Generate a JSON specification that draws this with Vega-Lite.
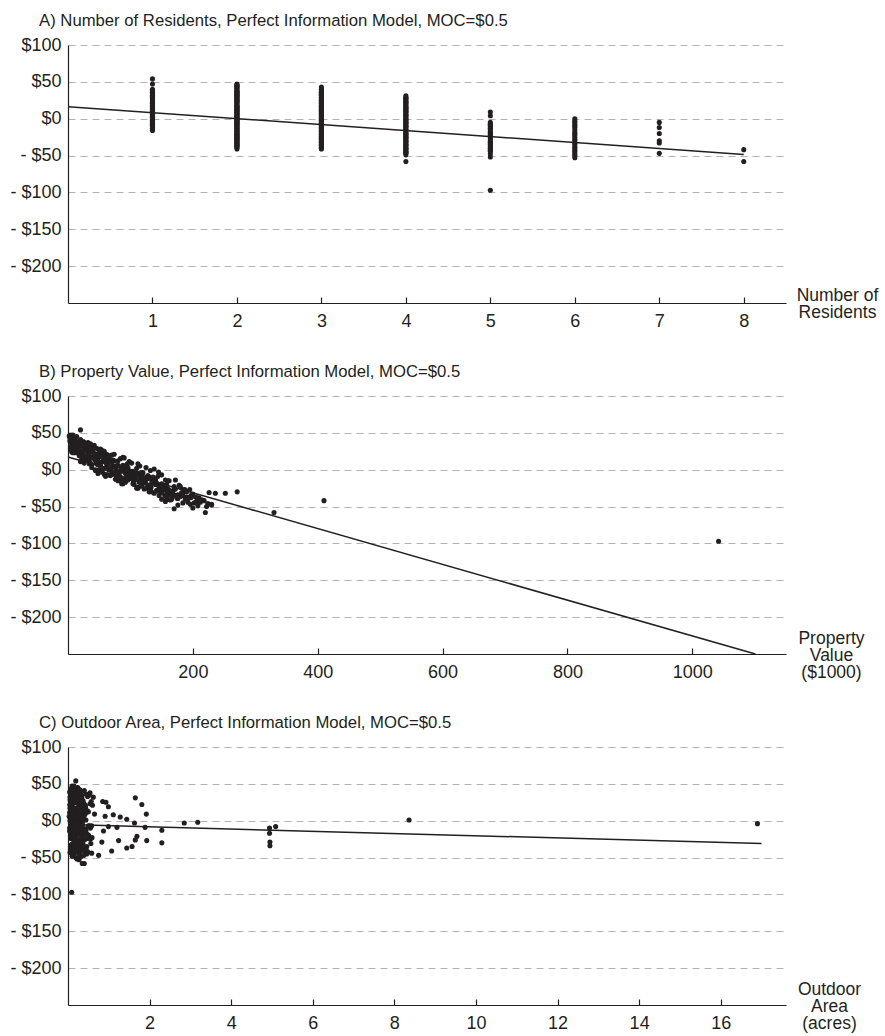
{
  "$schema": "https://vega.github.io/schema/vega-lite/v6.json",
  "padding": {"left": 9, "top": 13, "right": 5, "bottom": 2},
  "background": "white",
  "datasets": {
    "hh": [
      {"r":1,"v":20,"a":0.19,"y":54},{"r":1,"v":8,"a":0.15,"y":47},{"r":1,"v":12,"a":0.3,"y":40},{"r":1,"v":25,"a":0.54,"y":38},
      {"r":1,"v":6,"a":0.45,"y":36},{"r":1,"v":30,"a":0.12,"y":34},{"r":1,"v":18,"a":0.62,"y":32},{"r":1,"v":40,"a":0.22,"y":30},
      {"r":1,"v":10,"a":0.05,"y":28},{"r":1,"v":55,"a":0.85,"y":26},{"r":1,"v":22,"a":0.33,"y":24},{"r":1,"v":48,"a":1.81,"y":22},
      {"r":1,"v":70,"a":0.1,"y":20},{"r":1,"v":35,"a":0.27,"y":18},{"r":1,"v":60,"a":0.4,"y":16},{"r":1,"v":28,"a":0.17,"y":14},
      {"r":1,"v":80,"a":0.5,"y":12},{"r":1,"v":45,"a":0.07,"y":10},{"r":1,"v":95,"a":1.11,"y":8},{"r":1,"v":52,"a":0.91,"y":6},
      {"r":1,"v":75,"a":0.25,"y":4},{"r":1,"v":110,"a":1.44,"y":2},{"r":1,"v":65,"a":0.13,"y":0},{"r":1,"v":90,"a":3.18,"y":-2},
      {"r":1,"v":120,"a":16.9,"y":-4},{"r":1,"v":58,"a":0.2,"y":-6},{"r":1,"v":100,"a":0.99,"y":-8},{"r":1,"v":130,"a":0.55,"y":-10},
      {"r":1,"v":85,"a":0.09,"y":-12},{"r":1,"v":140,"a":0.87,"y":-14},{"r":1,"v":105,"a":0.3,"y":-16},
      {"r":1,"v":3,"a":0.04,"y":39},{"r":1,"v":14,"a":0.18,"y":35},{"r":1,"v":9,"a":0.26,"y":31},{"r":1,"v":33,"a":0.11,"y":27},
      {"r":1,"v":12,"a":0.39,"y":23},{"r":1,"v":26,"a":0.08,"y":19},{"r":1,"v":42,"a":0.2,"y":15},{"r":1,"v":20,"a":0.3,"y":11},
      {"r":1,"v":62,"a":0.14,"y":7},{"r":1,"v":38,"a":0.06,"y":3},{"r":1,"v":78,"a":0.23,"y":-1},{"r":1,"v":48,"a":0.35,"y":-5},
      {"r":1,"v":115,"a":0.12,"y":-9},{"r":1,"v":92,"a":0.44,"y":-13},
      {"r":1,"v":5,"a":0.28,"y":37},{"r":1,"v":16,"a":0.14,"y":29},{"r":1,"v":24,"a":0.42,"y":21},{"r":1,"v":36,"a":0.05,"y":17},
      {"r":1,"v":50,"a":0.21,"y":9},{"r":1,"v":63,"a":0.32,"y":3},{"r":1,"v":82,"a":0.16,"y":-3},{"r":1,"v":98,"a":0.09,"y":-7},
      {"r":1,"v":72,"a":0.38,"y":5},{"r":1,"v":44,"a":0.24,"y":13},
      {"r":2,"v":4,"a":0.1,"y":47},{"r":2,"v":14,"a":0.24,"y":45},{"r":2,"v":3,"a":0.06,"y":43},{"r":2,"v":20,"a":0.4,"y":41},
      {"r":2,"v":9,"a":0.18,"y":39},{"r":2,"v":32,"a":0.3,"y":37},{"r":2,"v":15,"a":0.52,"y":35},{"r":2,"v":42,"a":0.14,"y":33},
      {"r":2,"v":5,"a":1.65,"y":31},{"r":2,"v":26,"a":0.21,"y":29},{"r":2,"v":50,"a":0.08,"y":27},{"r":2,"v":37,"a":0.93,"y":25},
      {"r":2,"v":16,"a":0.35,"y":23},{"r":2,"v":62,"a":0.6,"y":21},{"r":2,"v":44,"a":0.99,"y":19},{"r":2,"v":88,"a":0.16,"y":17},
      {"r":2,"v":30,"a":0.28,"y":15},{"r":2,"v":72,"a":0.45,"y":13},{"r":2,"v":55,"a":0.04,"y":11},{"r":2,"v":102,"a":1.92,"y":9},
      {"r":2,"v":38,"a":0.23,"y":7},{"r":2,"v":78,"a":0.34,"y":5},{"r":2,"v":125,"a":0.12,"y":3},{"r":2,"v":68,"a":8.36,"y":1},
      {"r":2,"v":97,"a":0.19,"y":-1},{"r":2,"v":145,"a":1.63,"y":-3},{"r":2,"v":82,"a":0.26,"y":-5},{"r":2,"v":118,"a":0.58,"y":-7},
      {"r":2,"v":60,"a":1.89,"y":-9},{"r":2,"v":135,"a":0.11,"y":-11},{"r":2,"v":108,"a":2.3,"y":-13},{"r":2,"v":160,"a":0.38,"y":-15},
      {"r":2,"v":92,"a":0.07,"y":-17},{"r":2,"v":150,"a":0.49,"y":-19},{"r":2,"v":128,"a":1.69,"y":-21},{"r":2,"v":170,"a":0.15,"y":-23},
      {"r":2,"v":112,"a":0.42,"y":-25},{"r":2,"v":185,"a":1.24,"y":-27},{"r":2,"v":142,"a":0.29,"y":-29},{"r":2,"v":165,"a":0.56,"y":-31},
      {"r":2,"v":200,"a":0.18,"y":-33},{"r":2,"v":155,"a":0.32,"y":-35},{"r":2,"v":190,"a":1.44,"y":-37},{"r":2,"v":175,"a":0.06,"y":-39},
      {"r":2,"v":210,"a":0.4,"y":-41},
      {"r":2,"v":2,"a":0.13,"y":46},{"r":2,"v":7,"a":0.29,"y":42},{"r":2,"v":24,"a":0.07,"y":38},{"r":2,"v":11,"a":0.34,"y":34},
      {"r":2,"v":35,"a":0.17,"y":30},{"r":2,"v":19,"a":0.24,"y":26},{"r":2,"v":54,"a":0.05,"y":22},{"r":2,"v":28,"a":0.43,"y":18},
      {"r":2,"v":66,"a":0.1,"y":14},{"r":2,"v":46,"a":0.27,"y":10},{"r":2,"v":88,"a":0.15,"y":6},{"r":2,"v":58,"a":0.36,"y":2},
      {"r":2,"v":104,"a":0.09,"y":-2},{"r":2,"v":72,"a":0.21,"y":-6},{"r":2,"v":126,"a":0.31,"y":-10},{"r":2,"v":96,"a":0.04,"y":-14},
      {"r":2,"v":140,"a":0.25,"y":-18},{"r":2,"v":118,"a":0.13,"y":-22},{"r":2,"v":160,"a":0.38,"y":-26},{"r":2,"v":134,"a":0.16,"y":-30},
      {"r":2,"v":176,"a":0.28,"y":-34},{"r":2,"v":158,"a":0.2,"y":-38},
      {"r":2,"v":6,"a":0.2,"y":44},{"r":2,"v":13,"a":0.12,"y":36},{"r":2,"v":21,"a":0.31,"y":32},{"r":2,"v":29,"a":0.07,"y":28},
      {"r":2,"v":39,"a":0.26,"y":24},{"r":2,"v":47,"a":0.18,"y":16},{"r":2,"v":57,"a":0.4,"y":12},{"r":2,"v":64,"a":0.11,"y":8},
      {"r":2,"v":76,"a":0.29,"y":4},{"r":2,"v":86,"a":0.05,"y":0},{"r":2,"v":94,"a":0.22,"y":-4},{"r":2,"v":106,"a":0.35,"y":-8},
      {"r":2,"v":116,"a":0.14,"y":-12},{"r":2,"v":124,"a":0.27,"y":-16},{"r":2,"v":132,"a":0.08,"y":-20},{"r":2,"v":146,"a":0.33,"y":-24},
      {"r":2,"v":152,"a":0.19,"y":-28},{"r":2,"v":168,"a":0.1,"y":-32},{"r":2,"v":180,"a":0.24,"y":-36},
      {"r":3,"v":7,"a":0.21,"y":43},{"r":3,"v":18,"a":0.09,"y":37},{"r":3,"v":36,"a":0.33,"y":35},{"r":3,"v":11,"a":0.48,"y":33},
      {"r":3,"v":27,"a":0.16,"y":31},{"r":3,"v":46,"a":0.26,"y":29},{"r":3,"v":4,"a":0.37,"y":27},{"r":3,"v":58,"a":0.13,"y":25},
      {"r":3,"v":33,"a":0.54,"y":23},{"r":3,"v":19,"a":0.05,"y":21},{"r":3,"v":67,"a":0.31,"y":19},{"r":3,"v":40,"a":0.22,"y":17},
      {"r":3,"v":84,"a":0.44,"y":15},{"r":3,"v":24,"a":0.1,"y":13},{"r":3,"v":98,"a":0.29,"y":11},{"r":3,"v":63,"a":0.65,"y":9},
      {"r":3,"v":47,"a":0.17,"y":7},{"r":3,"v":115,"a":1.28,"y":5},{"r":3,"v":86,"a":0.39,"y":3},{"r":3,"v":57,"a":0.08,"y":1},
      {"r":3,"v":132,"a":0.27,"y":-1},{"r":3,"v":74,"a":2.85,"y":-3},{"r":3,"v":106,"a":0.14,"y":-5},{"r":3,"v":150,"a":0.5,"y":-7},
      {"r":3,"v":94,"a":1.2,"y":-9},{"r":3,"v":122,"a":0.23,"y":-11},{"r":3,"v":76,"a":0.36,"y":-13},{"r":3,"v":162,"a":0.12,"y":-15},
      {"r":3,"v":138,"a":0.45,"y":-17},{"r":3,"v":104,"a":0.2,"y":-19},{"r":3,"v":178,"a":0.32,"y":-21},{"r":3,"v":148,"a":0.59,"y":-23},
      {"r":3,"v":126,"a":0.11,"y":-25},{"r":3,"v":195,"a":1.93,"y":-27},{"r":3,"v":158,"a":4.95,"y":-29},{"r":3,"v":226,"a":0.24,"y":-31},
      {"r":3,"v":182,"a":0.07,"y":-33},{"r":3,"v":168,"a":0.46,"y":-35},{"r":3,"v":205,"a":0.19,"y":-37},{"r":3,"v":188,"a":0.3,"y":-39},
      {"r":3,"v":215,"a":1.07,"y":-41},
      {"r":3,"v":5,"a":0.12,"y":40},{"r":3,"v":28,"a":0.2,"y":36},{"r":3,"v":16,"a":0.05,"y":32},{"r":3,"v":40,"a":0.28,"y":28},
      {"r":3,"v":6,"a":0.16,"y":24},{"r":3,"v":56,"a":0.35,"y":20},{"r":3,"v":22,"a":0.09,"y":16},{"r":3,"v":74,"a":0.22,"y":12},
      {"r":3,"v":34,"a":0.41,"y":8},{"r":3,"v":92,"a":0.06,"y":4},{"r":3,"v":50,"a":0.18,"y":0},{"r":3,"v":110,"a":0.3,"y":-4},
      {"r":3,"v":68,"a":0.1,"y":-8},{"r":3,"v":128,"a":0.26,"y":-12},{"r":3,"v":86,"a":0.14,"y":-16},{"r":3,"v":144,"a":0.37,"y":-20},
      {"r":3,"v":112,"a":0.08,"y":-24},{"r":3,"v":162,"a":0.23,"y":-28},{"r":3,"v":138,"a":0.33,"y":-32},{"r":3,"v":180,"a":0.15,"y":-36},
      {"r":3,"v":166,"a":0.27,"y":-40},
      {"r":3,"v":10,"a":0.25,"y":39},{"r":3,"v":17,"a":0.14,"y":34},{"r":3,"v":31,"a":0.36,"y":26},{"r":3,"v":42,"a":0.06,"y":22},
      {"r":3,"v":52,"a":0.3,"y":18},{"r":3,"v":60,"a":0.17,"y":14},{"r":3,"v":70,"a":0.43,"y":10},{"r":3,"v":80,"a":0.1,"y":6},
      {"r":3,"v":90,"a":0.26,"y":2},{"r":3,"v":100,"a":0.15,"y":-2},{"r":3,"v":108,"a":0.32,"y":-6},{"r":3,"v":118,"a":0.04,"y":-10},
      {"r":3,"v":134,"a":0.21,"y":-14},{"r":3,"v":142,"a":0.38,"y":-18},{"r":3,"v":154,"a":0.12,"y":-22},{"r":3,"v":172,"a":0.29,"y":-26},
      {"r":3,"v":186,"a":0.18,"y":-30},{"r":3,"v":198,"a":0.07,"y":-34},{"r":3,"v":210,"a":0.34,"y":-38},
      {"r":4,"v":13,"a":0.34,"y":31},{"r":4,"v":52,"a":0.14,"y":28},{"r":4,"v":29,"a":0.57,"y":26},{"r":4,"v":8,"a":0.25,"y":23},
      {"r":4,"v":74,"a":0.42,"y":21},{"r":4,"v":43,"a":0.06,"y":18},{"r":4,"v":90,"a":0.2,"y":16},{"r":4,"v":34,"a":0.48,"y":13},
      {"r":4,"v":66,"a":0.15,"y":11},{"r":4,"v":112,"a":0.38,"y":8},{"r":4,"v":50,"a":0.03,"y":6},{"r":4,"v":96,"a":0.28,"y":3},
      {"r":4,"v":138,"a":0.44,"y":1},{"r":4,"v":79,"a":0.1,"y":-2},{"r":4,"v":117,"a":0.33,"y":-4},{"r":4,"v":64,"a":0.53,"y":-7},
      {"r":4,"v":144,"a":0.24,"y":-9},{"r":4,"v":101,"a":0.4,"y":-12},{"r":4,"v":172,"a":0.13,"y":-14},{"r":4,"v":124,"a":4.94,"y":-17},
      {"r":4,"v":88,"a":0.35,"y":-19},{"r":4,"v":152,"a":0.19,"y":-22},{"r":4,"v":133,"a":0.47,"y":-24},{"r":4,"v":187,"a":0.16,"y":-27},
      {"r":4,"v":146,"a":0.83,"y":-29},{"r":4,"v":252,"a":0.37,"y":-32},{"r":4,"v":166,"a":4.95,"y":-34},{"r":4,"v":198,"a":0.21,"y":-37},
      {"r":4,"v":176,"a":0.27,"y":-39},{"r":4,"v":218,"a":0.12,"y":-42},{"r":4,"v":192,"a":0.58,"y":-44},{"r":4,"v":230,"a":0.75,"y":-47},
      {"r":4,"v":208,"a":0.31,"y":-49},{"r":4,"v":220,"a":0.4,"y":-58},
      {"r":4,"v":4,"a":0.19,"y":29},{"r":4,"v":40,"a":0.07,"y":24},{"r":4,"v":18,"a":0.3,"y":19},{"r":4,"v":58,"a":0.12,"y":14},
      {"r":4,"v":26,"a":0.24,"y":9},{"r":4,"v":70,"a":0.05,"y":4},{"r":4,"v":44,"a":0.36,"y":-1},{"r":4,"v":100,"a":0.17,"y":-5},
      {"r":4,"v":84,"a":0.09,"y":-10},{"r":4,"v":120,"a":0.28,"y":-15},{"r":4,"v":106,"a":0.13,"y":-20},{"r":4,"v":154,"a":0.4,"y":-25},
      {"r":4,"v":130,"a":0.21,"y":-30},{"r":4,"v":172,"a":0.06,"y":-35},{"r":4,"v":160,"a":0.33,"y":-40},{"r":4,"v":184,"a":0.15,"y":-45},
      {"r":4,"v":15,"a":0.22,"y":27},{"r":4,"v":32,"a":0.4,"y":22},{"r":4,"v":48,"a":0.09,"y":15},{"r":4,"v":60,"a":0.31,"y":10},
      {"r":4,"v":76,"a":0.18,"y":5},{"r":4,"v":92,"a":0.06,"y":0},{"r":4,"v":110,"a":0.27,"y":-6},{"r":4,"v":126,"a":0.14,"y":-11},
      {"r":4,"v":140,"a":0.37,"y":-16},{"r":4,"v":156,"a":0.11,"y":-21},{"r":4,"v":170,"a":0.24,"y":-26},{"r":4,"v":182,"a":0.3,"y":-31},
      {"r":4,"v":196,"a":0.08,"y":-36},{"r":4,"v":214,"a":0.19,"y":-41},{"r":4,"v":224,"a":0.28,"y":-46},
      {"r":5,"v":36,"a":0.11,"y":9},{"r":5,"v":84,"a":0.3,"y":4},{"r":5,"v":70,"a":0.2,"y":-5},{"r":5,"v":128,"a":5.09,"y":-8},
      {"r":5,"v":96,"a":0.43,"y":-11},{"r":5,"v":156,"a":0.09,"y":-14},{"r":5,"v":114,"a":0.26,"y":-17},{"r":5,"v":140,"a":0.51,"y":-20},
      {"r":5,"v":180,"a":0.14,"y":-23},{"r":5,"v":122,"a":1.65,"y":-26},{"r":5,"v":168,"a":0.36,"y":-29},{"r":5,"v":236,"a":0.2,"y":-32},
      {"r":5,"v":146,"a":1.57,"y":-35},{"r":5,"v":196,"a":0.44,"y":-38},{"r":5,"v":164,"a":0.17,"y":-41},{"r":5,"v":212,"a":0.28,"y":-44},
      {"r":5,"v":230,"a":0.1,"y":-48},{"r":5,"v":200,"a":0.22,"y":-52},{"r":5,"v":1042,"a":0.09,"y":-97},
      {"r":5,"v":62,"a":0.27,"y":-7},{"r":5,"v":108,"a":0.13,"y":-13},{"r":5,"v":86,"a":0.34,"y":-19},{"r":5,"v":132,"a":0.08,"y":-24},
      {"r":5,"v":150,"a":0.22,"y":-31},{"r":5,"v":174,"a":0.29,"y":-37},{"r":5,"v":156,"a":0.05,"y":-43},
      {"r":5,"v":78,"a":0.15,"y":-9},{"r":5,"v":118,"a":0.32,"y":-22},{"r":5,"v":160,"a":0.12,"y":-34},{"r":5,"v":188,"a":0.25,"y":-40},
      {"r":6,"v":44,"a":0.32,"y":0},{"r":6,"v":92,"a":0.16,"y":-5},{"r":6,"v":136,"a":4.94,"y":-10},{"r":6,"v":80,"a":0.41,"y":-15},
      {"r":6,"v":158,"a":0.07,"y":-20},{"r":6,"v":110,"a":0.55,"y":-25},{"r":6,"v":271,"a":0.25,"y":-30},{"r":6,"v":184,"a":0.34,"y":-35},
      {"r":6,"v":150,"a":0.12,"y":-40},{"r":6,"v":202,"a":0.46,"y":-45},{"r":6,"v":222,"a":0.19,"y":-50},{"r":6,"v":170,"a":0.27,"y":-53},
      {"r":6,"v":54,"a":0.2,"y":-3},{"r":6,"v":98,"a":0.1,"y":-8},{"r":6,"v":124,"a":0.31,"y":-18},{"r":6,"v":142,"a":0.16,"y":-28},
      {"r":6,"v":192,"a":0.24,"y":-38},{"r":6,"v":176,"a":0.11,"y":-48},
      {"r":6,"v":88,"a":0.22,"y":-12},{"r":6,"v":132,"a":0.09,"y":-22},{"r":6,"v":164,"a":0.3,"y":-33},{"r":6,"v":206,"a":0.17,"y":-43},
      {"r":7,"v":102,"a":0.24,"y":-5},{"r":7,"v":140,"a":0.37,"y":-12},{"r":7,"v":118,"a":0.14,"y":-20},{"r":7,"v":190,"a":2.3,"y":-30},
      {"r":7,"v":160,"a":0.29,"y":-33},{"r":7,"v":196,"a":0.39,"y":-47},
      {"r":8,"v":410,"a":0.48,"y":-42},{"r":8,"v":330,"a":0.35,"y":-58}
    ],
    "lineA": [{"x":0,"y":16.3},{"x":8,"y":-48.5}],
    "lineB": [{"x":0,"y":17.2},{"x":1101,"y":-250}],
    "lineC": [{"x":0,"y":-5.2},{"x":17,"y":-31}]
  },
  "vconcat": [
    {
      "width": 718, "height": 258,
      "title": {"text": "A) Number of Residents, Perfect Information Model, MOC=$0.5"},
      "layer": [
        {
          "data": {"name": "hh"},
          "mark": {"type": "circle", "size": 26, "opacity": 1, "color": "#231f20"},
          "encoding": {
            "x": {"field": "r", "type": "quantitative", "scale": {"domain": [0, 8.5], "nice": false},
                  "axis": {"values": [1,2,3,4,5,6,7,8], "title": ["Number of", "Residents"], "titleX": 769, "titleY": -3, "tickSize": -6, "ticks": true}},
            "y": {"field": "y", "type": "quantitative", "scale": {"domain": [-250, 100], "nice": false},
                  "axis": {"values": [-200,-150,-100,-50,0,50,100]}}
          }
        },
        {
          "data": {"name": "lineA"},
          "mark": {"type": "line", "color": "#231f20", "strokeWidth": 1.5},
          "encoding": {"x": {"field": "x", "type": "quantitative"}, "y": {"field": "y", "type": "quantitative"}}
        }
      ]
    },
    {
      "width": 718, "height": 258,
      "title": {"text": "B) Property Value, Perfect Information Model, MOC=$0.5"},
      "layer": [
        {
          "data": {"name": "hh"},
          "mark": {"type": "circle", "size": 26, "opacity": 1, "color": "#231f20"},
          "encoding": {
            "x": {"field": "v", "type": "quantitative", "scale": {"domain": [0, 1150], "nice": false},
                  "axis": {"values": [200,400,600,800,1000], "title": ["Property", "Value", "($1000)"], "titleX": 763, "titleY": -11, "tickSize": -6, "ticks": true}},
            "y": {"field": "y", "type": "quantitative", "scale": {"domain": [-250, 100], "nice": false},
                  "axis": {"values": [-200,-150,-100,-50,0,50,100]}}
          }
        },
        {
          "data": {"name": "lineB"},
          "mark": {"type": "line", "color": "#231f20", "strokeWidth": 1.5},
          "encoding": {"x": {"field": "x", "type": "quantitative"}, "y": {"field": "y", "type": "quantitative"}}
        }
      ]
    },
    {
      "width": 718, "height": 258,
      "title": {"text": "C) Outdoor Area, Perfect Information Model, MOC=$0.5"},
      "layer": [
        {
          "data": {"name": "hh"},
          "mark": {"type": "circle", "size": 26, "opacity": 1, "color": "#231f20"},
          "encoding": {
            "x": {"field": "a", "type": "quantitative", "scale": {"domain": [0, 17.6], "nice": false},
                  "axis": {"values": [2,4,6,8,10,12,14,16], "title": ["Outdoor", "Area", "(acres)"], "titleX": 761, "titleY": -11, "tickSize": -6, "ticks": true}},
            "y": {"field": "y", "type": "quantitative", "scale": {"domain": [-250, 100], "nice": false},
                  "axis": {"values": [-200,-150,-100,-50,0,50,100]}}
          }
        },
        {
          "data": {"name": "lineC"},
          "mark": {"type": "line", "color": "#231f20", "strokeWidth": 1.5},
          "encoding": {"x": {"field": "x", "type": "quantitative"}, "y": {"field": "y", "type": "quantitative"}}
        }
      ]
    }
  ],
  "spacing": 93,
  "bounds": "flush",
  "config": {
    "font": "Liberation Sans",
    "view": {"stroke": null},
    "title": {"anchor": "start", "frame": "group", "dx": -29, "offset": 6, "fontSize": 16.7, "fontWeight": "normal", "color": "#231f20", "font": "Liberation Sans"},
    "axis": {"labelFont": "Liberation Sans", "labelFontSize": 18, "labelColor": "#231f20", "titleFont": "Liberation Sans", "titleFontSize": 17.5, "titleFontWeight": "normal", "titleColor": "#231f20", "domainColor": "#231f20", "domainWidth": 1.2, "tickColor": "#231f20"},
    "axisX": {"grid": false, "format": "d", "tickWidth": 1.2, "labelPadding": 15, "labelBaseline": "top", "labelFlush": false, "titleAlign": "center", "titleBaseline": "alphabetic", "titleLineHeight": 17, "titleAnchor": "start"},
    "axisY": {"title": null, "labelExpr": "datum.value < 0 ? '- $' + (-datum.value) : '$' + datum.value", "ticks": false, "labelPadding": 7, "grid": true, "gridColor": "#b3b3b3", "gridDash": [7,5], "gridWidth": 1}
  }
}
